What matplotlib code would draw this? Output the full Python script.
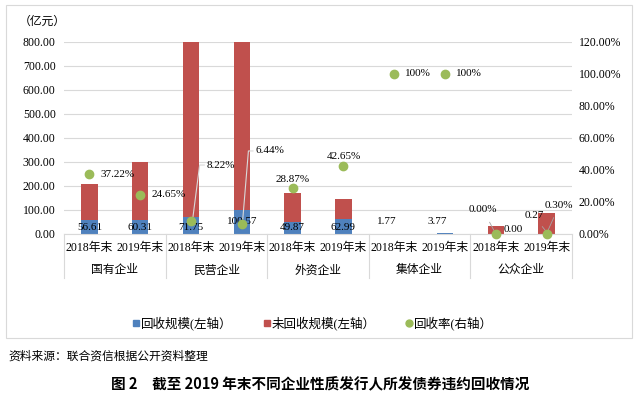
import numpy as np
import matplotlib
matplotlib.use('Agg')
from matplotlib import pyplot as plt
from matplotlib.lines import Line2D
from matplotlib.patches import Rectangle
import matplotlib.transforms as mtransforms

plt.rcParams['font.family'] = ['Liberation Serif', 'Noto Sans CJK SC']

groups = ['国有企业', '民营企业', '外资企业', '集体企业', '公众企业']
years = ['2018年末', '2019年末'] * 5
recovered = [56.61, 60.31, 71.75, 100.57, 49.87, 62.99, 1.77, 3.77, 0.00, 0.27]
unrecovered = [151, 240, 801, 1461, 122, 84, 0, 0, 33, 86]
rate = [37.22, 24.65, 8.22, 6.44, 28.87, 42.65, 100, 100, 0.00, 0.30]
rate_labels = ['37.22%', '24.65%', '8.22%', '6.44%', '28.87%', '42.65%',
               '100%', '100%', '0.00%', '0.30%']

blue = '#4F81BD'
red = '#C0504D'
green = '#9BBB59'
fs = 8.5

fig = plt.figure(figsize=(6.4, 3.96), dpi=100)
fig.patches.append(Rectangle((6/640, 1-338/396), 626/640, 333/396, transform=fig.transFigure,
                             fill=False, edgecolor='#D9D9D9', linewidth=0.8))
ax = fig.add_axes([64/640, 1-234/396, 508/640, 192/396])
x = np.arange(len(recovered))
w = 0.32
ax.bar(x, recovered, w, color=blue, zorder=2)
ax.bar(x, unrecovered, w, bottom=recovered, color=red, zorder=2)
ax.set_ylim(0, 800)
ax.set_xlim(-0.5, 9.5)
ax.set_yticks(np.arange(0, 801, 100))
ax.set_yticklabels(['%.2f' % v for v in np.arange(0, 801, 100)], fontsize=fs)
ax.yaxis.grid(True, color='#D9D9D9', linewidth=0.8, zorder=0)
ax.set_axisbelow(True)
for s in ['left', 'right', 'top']:
    ax.spines[s].set_visible(False)
ax.spines['bottom'].set_color('#D9D9D9')
ax.tick_params(axis='y', length=0, pad=6)
ax.set_xticks(x)
ax.set_xticklabels(years, fontsize=fs)
ax.tick_params(axis='x', length=0, pad=6)
fig.text(19/640, 1-22/396, '（亿元）', ha='left', va='center', fontsize=fs)

# group labels and separators
tr = mtransforms.blended_transform_factory(ax.transData, ax.transAxes)
for i, g in enumerate(groups):
    ax.text(2*i + 0.5, -0.19, g, transform=tr, ha='center', va='center', fontsize=fs, clip_on=False)
for b in np.arange(-0.5, 10, 2):
    ax.add_line(Line2D([b, b], [0, -0.23], transform=tr, color='#D9D9D9', linewidth=0.8, clip_on=False))

# recovered value labels
rec_pos = {0: (0, 25), 1: (0, 25), 2: (0, 25), 3: (0, 50), 4: (0, 25), 5: (0, 25),
           6: (-0.15, 50), 7: (-0.15, 50)}
for i, (dx, y) in rec_pos.items():
    ax.text(i + dx, y, '%.2f' % recovered[i], ha='center', va='center', fontsize=fs - 0.5, zorder=5)
ax.text(8.15, 17, '%.2f' % recovered[8], ha='left', va='center', fontsize=fs - 0.5, zorder=5)
ax.annotate('%.2f' % recovered[9], xy=(9.0, 8), xytext=(8.75, 75), ha='center', va='center',
            fontsize=fs - 0.5, zorder=5,
            arrowprops=dict(arrowstyle='-', color='#A6A6A6', lw=0.6, shrinkA=3, shrinkB=0))

# rate on right axis
ax2 = ax.twinx()
ax2.set_ylim(0, 120)
ax2.set_yticks(np.arange(0, 121, 20))
ax2.set_yticklabels(['%.2f%%' % v for v in np.arange(0, 121, 20)], fontsize=fs)
ax2.tick_params(axis='y', length=0, pad=5)
for s in ax2.spines.values():
    s.set_visible(False)
ax2.plot(x, rate, 'o', color=green, markersize=6, zorder=4, clip_on=False)

lab_pos = {0: (0.22, 0, 'left'), 1: (0.22, 0, 'left'),
           4: (0, 5.5, 'center'), 5: (0, 5.5, 'center'),
           6: (0.22, 0, 'left'), 7: (0.22, 0, 'left')}
for i, (dx, dy, ha) in lab_pos.items():
    ax2.text(i + dx, rate[i] + dy, rate_labels[i], ha=ha, va='center', fontsize=fs - 0.5)

# leader-line labels for 民营企业
ax2.plot([2.04, 2.17, 2.26], [11, 43.1, 43.1], color='#D9D9D9', lw=0.8, zorder=3)
ax2.text(2.31, 43.1, rate_labels[2], ha='left', va='center', fontsize=fs - 0.5)
ax2.plot([3.02, 3.13, 3.22], [9.5, 51.9, 51.9], color='#D9D9D9', lw=0.8, zorder=3)
ax2.text(3.27, 51.9, rate_labels[3], ha='left', va='center', fontsize=fs - 0.5)

ax2.annotate(rate_labels[8], xy=(8, rate[8]), xytext=(7.75, 15), ha='center', va='center', fontsize=fs - 0.5,
             arrowprops=dict(arrowstyle='-', color='#A6A6A6', lw=0.6, shrinkA=4, shrinkB=3))
ax2.annotate(rate_labels[9], xy=(9, rate[9]), xytext=(9.25, 18), ha='center', va='center', fontsize=fs - 0.5,
             arrowprops=dict(arrowstyle='-', color='#A6A6A6', lw=0.6, shrinkA=4, shrinkB=3))

handles = [Line2D([], [], marker='s', color=blue, linestyle='none', markersize=5),
           Line2D([], [], marker='s', color=red, linestyle='none', markersize=5),
           Line2D([], [], marker='o', color=green, linestyle='none', markersize=5)]
fig.legend(handles, ['回收规模(左轴）', '未回收规模(左轴）', '回收率(右轴）'], loc='center',
           bbox_to_anchor=(313/640, 1-323/396), ncol=3, frameon=False, fontsize=fs + 0.5,
           handlelength=0.6, handletextpad=0.1, columnspacing=2.4)

fig.text(8/640, 1-356/396, '资料来源：联合资信根据公开资料整理', ha='left', va='center', fontsize=8.5,
         family=['Noto Sans CJK SC'])
fig.text(320/640, 1-384/396, '图 2　截至 2019 年末不同企业性质发行人所发债券违约回收情况', ha='center',
         va='center', fontsize=10.5, fontweight='bold', family=['Noto Sans CJK SC'])

fig.savefig('out.png', dpi=100)
